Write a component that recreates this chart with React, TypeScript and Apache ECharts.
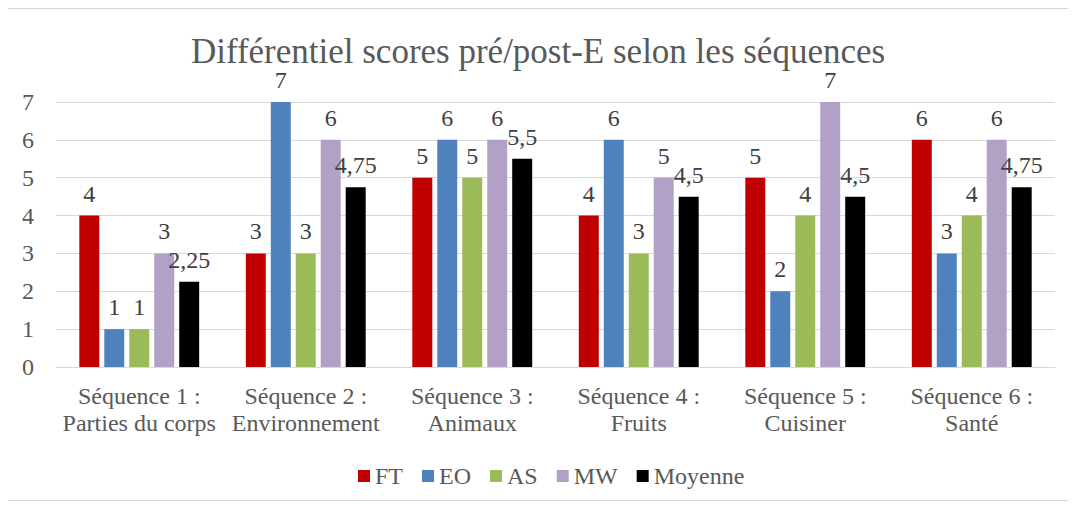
import React, { useEffect, useRef } from "react";
import * as echarts from "echarts";

const categories = [
  "Séquence 1 :\nParties du corps",
  "Séquence 2 :\nEnvironnement",
  "Séquence 3 :\nAnimaux",
  "Séquence 4 :\nFruits",
  "Séquence 5 :\nCuisiner",
  "Séquence 6 :\nSanté",
];
const seriesNames = ["FT", "EO", "AS", "MW", "Moyenne"];
const FT = [4, 3, 5, 4, 5, 6];
const EO = [1, 7, 6, 6, 2, 3];
const AS = [1, 3, 5, 3, 4, 4];
const MW = [3, 6, 6, 5, 7, 6];
const Moyenne = [2.25, 4.75, 5.5, 4.5, 4.5, 4.75];
const colors = ["#C00000", "#4F81BD", "#9BBB59", "#B2A1C7", "#000000"];
const yTicks = { min: 0, max: 7, interval: 1 };
const title = "Différentiel scores pré/post-E selon les séquences";

const FONT = "serif";

export default function App() {
  const ref = useRef<HTMLDivElement>(null);
  useEffect(() => {
    if (!ref.current) return;
    const chart = echarts.init(ref.current, null, { renderer: "svg" });
    const data = [FT, EO, AS, MW, Moyenne];
    chart.setOption({
      animation: false,
      title: {
        text: title,
        left: "center",
        top: 20,
        textStyle: { fontFamily: FONT, fontSize: 35, fontWeight: "normal", color: "#595959" },
      },
      legend: {
        top: 450,
        left: 345,
        itemWidth: 12,
        itemHeight: 12,
        itemGap: 19,
        icon: "rect",
        textStyle: { fontFamily: FONT, fontSize: 24, color: "#595959" },
        data: seriesNames,
      },
      grid: { left: 48, right: 13, top: 93, bottom: 133, containLabel: false },
      xAxis: {
        type: "category",
        data: categories,
        axisTick: { show: false },
        axisLine: { lineStyle: { color: "#d9d9d9", width: 1 } },
        axisLabel: {
          fontFamily: FONT,
          fontSize: 24,
          color: "#595959",
          lineHeight: 27,
          margin: 15,
          interval: 0,
        },
      },
      yAxis: {
        type: "value",
        min: yTicks.min,
        max: yTicks.max,
        interval: yTicks.interval,
        axisLine: { show: false },
        axisTick: { show: false },
        splitLine: { lineStyle: { color: "#d9d9d9", width: 1 } },
        axisLabel: { fontFamily: FONT, fontSize: 24, color: "#595959", margin: 22 },
      },
      series: seriesNames.map((name, i) => ({
        name,
        type: "bar",
        data: data[i],
        barGap: "25%",
        barCategoryGap: "28%",
        itemStyle: { color: colors[i] },
        label: {
          show: true,
          position: "top",
          distance: 10,
          fontFamily: FONT,
          fontSize: 24,
          color: "#404040",
          formatter: (p: any) => String(p.value).replace(".", ","),
        },
      })),
    });
    return () => chart.dispose();
  }, []);
  return (
    <div
      ref={ref}
      style={{
        width: 1062,
        height: 493,
        border: "1px solid #d9d9d9",
        boxSizing: "border-box",
        marginLeft: -1,
      }}
    />
  );
}
